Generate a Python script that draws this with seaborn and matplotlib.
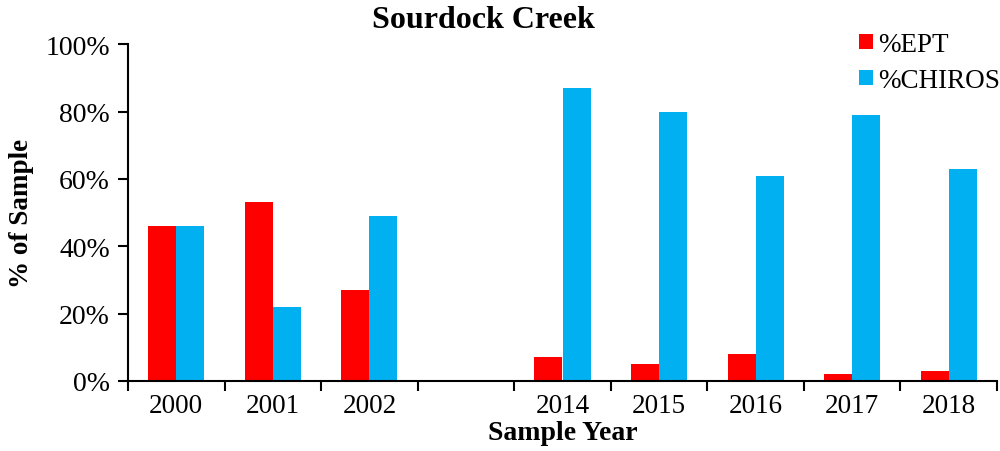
import numpy as np
import pandas as pd
import seaborn as sns
import matplotlib.pyplot as plt
from matplotlib.patches import Patch
from matplotlib.ticker import PercentFormatter, FixedLocator

# data (percent of sample)
years = ['2000', '2001', '2002', '2014', '2015', '2016', '2017', '2018']
ept = [46, 53, 27, 7, 5, 8, 2, 3]
chiros = [46, 22, 49, 87, 80, 61, 79, 63]
# blank slot between 2002 and 2014
year_order = ['2000', '2001', '2002', ' ', '2014', '2015', '2016', '2017', '2018']
series = ['%EPT', '%CHIROS']
colors = ['#FF0000', '#00B0F0']

df = pd.DataFrame({'year': years, '%EPT': ept, '%CHIROS': chiros})
df = df.melt(id_vars='year', var_name='metric', value_name='pct')

sns.set_style('ticks')
plt.rcParams['font.family'] = ['Liberation Serif', 'DejaVu Serif']
plt.rcParams['text.color'] = 'black'
plt.rcParams['axes.labelcolor'] = 'black'
plt.rcParams['xtick.color'] = 'black'
plt.rcParams['ytick.color'] = 'black'

fig = plt.figure(figsize=(10, 4.52), dpi=100)
ax = fig.add_axes([0.128, 0.155, 0.869, 0.745])

sns.barplot(df, x='year', y='pct', hue='metric', order=year_order, hue_order=series,
            palette=colors, width=0.58, saturation=1, gap=0, linewidth=0,
            ax=ax, legend=False)

ax.set_xlim(-0.5, len(year_order) - 0.5)
ax.set_ylim(0, 100)
ax.yaxis.set_major_locator(FixedLocator([0, 20, 40, 60, 80, 100]))
ax.yaxis.set_major_formatter(PercentFormatter(100, decimals=0))
ax.xaxis.set_minor_locator(FixedLocator(np.arange(-0.5, len(year_order), 1.0)))

ax.tick_params(axis='x', which='major', length=0, pad=9, labelsize=19.5)
ax.tick_params(axis='x', which='minor', length=7, width=1.5, direction='out', color='black')
ax.tick_params(axis='y', length=7, width=1.5, direction='out', pad=6, labelsize=20, color='black')
for side in ['top', 'right']:
    ax.spines[side].set_visible(False)
for side in ['left', 'bottom']:
    ax.spines[side].set_linewidth(1.5)
    ax.spines[side].set_color('black')

ax.set_xlabel('Sample Year', fontsize=20, fontweight='bold', labelpad=1)
ax.set_ylabel('')
fig.text(0.022, 1 - 213 / 452, '% of Sample', rotation=90, ha='center', va='center',
         fontsize=19.5, fontweight='bold')
fig.text(0.483, 1 - 20 / 452, 'Sourdock Creek', ha='center', va='center',
         fontsize=23, fontweight='bold')

handles = [Patch(facecolor=c, edgecolor='none') for c in colors]
fig.legend(handles, series, loc='upper left', bbox_to_anchor=(0.859, 1 - 33 / 452),
           frameon=False, fontsize=19.5, handlelength=0.5, handleheight=0.5,
           handletextpad=0.2, labelspacing=0.4, borderpad=0, borderaxespad=0)

fig.savefig('out.png', dpi=100)
